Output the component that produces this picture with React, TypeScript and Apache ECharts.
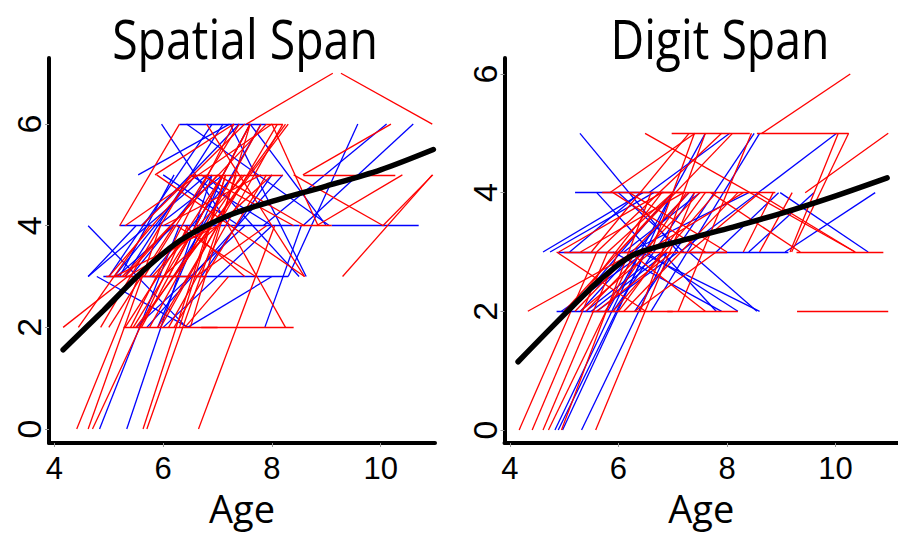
import React, { useEffect, useRef } from "react";
import * as echarts from "echarts";

// ---- data ----
const ageTicks = [4, 6, 8, 10];
const spanTicks = [0, 2, 4, 6];

// segments: [age1, score1, age2, score2]
const spatialRed: number[][] = [
  [4.41, 0, 5.55, 3], [4.62, 0, 5.95, 4], [4.7, 0, 6.45, 4], [5.63, 0, 7.15, 5],
  [5.7, 0, 7.35, 5], [6.65, 0, 8.05, 4], [4.16, 2, 5.35, 3], [4.44, 2, 5.75, 4],
  [4.85, 2, 6.5, 5], [5.27, 2, 7.0, 2], [6.7, 2, 8.4, 2], [5.3, 2, 7.1, 5],
  [5.4, 2, 7.3, 6], [5.5, 2, 6.9, 4], [5.6, 2, 7.6, 6], [5.75, 2, 7.8, 6],
  [5.9, 2, 8.1, 6], [6.1, 2, 8.2, 6], [6.4, 2, 7.2, 3], [4.95, 3, 5.55, 3],
  [5.0, 3, 6.6, 5], [5.1, 3, 7.0, 4], [5.25, 3, 7.9, 6], [5.8, 3, 7.5, 5],
  [6.0, 3, 8.0, 5], [6.2, 3, 8.25, 6], [6.6, 3, 7.9, 4], [5.2, 4, 6.3, 6],
  [5.6, 4, 7.5, 6], [6.0, 4, 7.8, 5], [5.88, 5, 8.6, 3], [7.2, 4, 8.25, 2],
  [6.5, 5, 8.2, 5], [5.85, 5, 7.3, 6], [7.53, 6, 9.12, 7], [9.27, 7, 10.95, 6],
  [8.57, 5, 10.19, 6], [8.82, 4, 10.4, 5], [9.3, 3, 10.95, 5], [8.4, 5, 10.05, 4],
  [8.5, 4, 9.1, 4], [7.9, 6, 8.2, 6], [8.58, 5, 10.27, 5], [10.04, 4, 10.96, 5],
  [6.3, 2, 7.15, 5], [6.5, 2, 7.6, 6], [6.8, 6, 8.6, 3], [8.0, 6, 8.85, 4],
  [5.35, 3, 6.9, 4], [5.55, 2, 7.45, 5], [6.25, 4, 7.7, 3], [7.0, 5, 8.6, 4],
  [5.3, 3, 7.0, 5], [5.45, 2, 6.6, 4], [5.65, 3, 7.4, 6], [6.1, 3, 7.6, 6],
  [5.95, 2, 7.0, 4], [6.2, 2, 7.9, 5], [5.0, 2, 6.2, 4], [5.3, 4, 8.0, 6],
  [6.9, 4, 8.3, 6], [6.4, 4, 7.5, 3], [6.7, 5, 8.4, 4], [5.6, 3, 6.8, 3]
];
const spatialBlue: number[][] = [
  [4.83, 0, 6.3, 4], [5.33, 0, 6.9, 5], [4.62, 4, 6.43, 2], [4.78, 3, 6.46, 2],
  [4.62, 3, 5.5, 4], [4.9, 3, 6.0, 3], [5.8, 3, 8.3, 3], [5.2, 4, 7.0, 4],
  [6.8, 4, 8.5, 4], [9.1, 4, 10.7, 4], [6.3, 6, 7.9, 6], [5.54, 5, 7.22, 6],
  [5.97, 6, 7.22, 4], [6.43, 6, 9.06, 4], [7.23, 6, 8.63, 3], [7.87, 2, 8.54, 4],
  [8.3, 3, 9.58, 6], [8.57, 4, 10.6, 6], [7.84, 4, 10.11, 6], [5.0, 3, 6.9, 6],
  [5.1, 3, 6.6, 5], [5.3, 3, 7.1, 6], [5.5, 2, 7.5, 4], [5.7, 2, 8.2, 5],
  [5.9, 2, 7.1, 5], [6.0, 2, 8.0, 4], [6.45, 2, 8.0, 3], [4.62, 3, 6.8, 5],
  [5.6, 4, 7.4, 6], [6.0, 5, 7.4, 4], [6.5, 5, 8.0, 4], [7.6, 6, 9.0, 4],
  [5.2, 3, 6.2, 5], [6.7, 3, 8.0, 5], [5.4, 3, 6.9, 5], [5.75, 3, 7.3, 5],
  [6.2, 3, 7.8, 6], [5.15, 3, 6.2, 4], [6.6, 4, 7.6, 6], [5.9, 4, 7.1, 5],
  [6.8, 5, 8.5, 3]
];
const digitRed: number[][] = [
  [4.17, 0, 5.6, 3], [4.41, 0, 5.8, 3], [4.61, 0, 6.0, 3], [4.71, 0, 6.3, 3],
  [4.95, 0, 6.6, 4], [5.58, 0, 7.4, 4], [4.33, 2, 6.3, 3], [4.86, 3, 6.5, 2],
  [5.5, 2, 7.0, 2], [6.9, 2, 8.2, 2], [9.29, 2, 10.97, 2], [9.28, 3, 10.88, 3],
  [6.98, 5, 8.42, 5], [8.55, 5, 10.24, 5], [6.8, 4, 8.89, 4], [5.0, 3, 6.2, 3],
  [6.3, 3, 8.0, 3], [8.64, 5, 10.27, 6], [9.44, 4, 10.97, 5], [6.49, 5, 10.36, 3],
  [10.24, 5, 9.19, 3], [8.55, 4, 10.36, 3], [5.84, 4, 7.41, 5], [6.0, 3, 8.1, 5],
  [5.0, 2, 7.0, 4], [5.2, 2, 7.3, 4], [5.4, 2, 7.5, 4], [5.6, 2, 7.0, 3],
  [5.9, 2, 7.8, 4], [6.1, 2, 8.2, 4], [5.3, 3, 7.2, 4], [5.6, 3, 7.9, 5],
  [6.2, 3, 7.6, 2], [7.1, 2, 8.45, 5], [6.4, 2, 7.6, 5], [7.3, 3, 8.6, 4],
  [8.3, 3, 8.85, 4], [8.6, 3, 9.2, 4], [9.16, 3, 10.05, 5], [7.7, 4, 9.35, 3],
  [5.7, 4, 7.2, 4], [6.6, 3, 7.4, 5], [5.1, 2, 6.8, 4], [5.3, 2, 6.6, 3],
  [5.75, 2, 7.25, 4], [6.0, 2, 7.6, 4], [6.3, 2, 7.8, 3], [5.5, 3, 7.3, 5],
  [5.8, 3, 7.0, 4], [6.5, 3, 8.3, 4], [5.9, 4, 7.6, 3], [6.2, 4, 8.0, 3],
  [4.9, 3, 6.8, 4]
];
const digitBlue: number[][] = [
  [4.83, 0, 6.4, 3], [4.89, 0, 6.5, 3], [4.97, 0, 7.0, 4], [5.32, 0, 6.9, 3],
  [5.2, 4, 6.83, 4], [4.89, 3, 6.3, 3], [7.2, 3, 9.13, 3], [4.86, 2, 6.0, 2],
  [5.29, 5, 7.1, 3], [4.61, 3, 6.45, 4], [4.74, 3, 6.65, 4], [6.56, 4, 8.05, 5],
  [7.13, 3, 10.02, 5], [8.98, 4, 10.6, 3], [9.07, 3, 10.73, 4], [4.95, 2, 6.5, 3],
  [5.1, 2, 7.0, 4], [5.3, 2, 7.3, 4], [5.8, 2, 7.6, 5], [6.3, 2, 8.5, 5],
  [6.6, 2, 8.6, 5], [7.3, 3, 8.55, 2], [6.5, 3, 8.2, 2], [6.8, 3, 7.8, 2],
  [6.0, 4, 7.2, 3], [5.6, 4, 6.6, 3], [7.8, 3, 8.95, 4], [8.4, 3, 9.6, 4],
  [5.5, 2, 6.9, 3], [6.1, 3, 7.5, 4], [5.4, 2, 6.8, 3], [5.6, 2, 7.1, 3],
  [5.9, 2, 7.4, 4], [6.2, 3, 8.4, 4], [5.9, 3, 7.9, 2], [6.4, 3, 8.6, 2],
  [5.1, 3, 6.4, 4]
];
// fitted curves: [age, score]
const spatialFit: number[][] = [
  [4.16, 1.56], [4.9, 2.33], [5.6, 3.08], [6.3, 3.7], [7.2, 4.2],
  [8.0, 4.48], [9.0, 4.78], [10.0, 5.1], [10.97, 5.5]
];
const digitFit: number[][] = [
  [4.15, 1.15], [5.05, 1.99], [5.66, 2.53], [6.27, 2.95], [7.19, 3.2],
  [8.11, 3.42], [9.03, 3.66], [9.95, 3.93], [10.95, 4.25]
];

const RED = "#ff0000";
const BLUE = "#0000ff";

function segSeries(segs: number[][], color: string, idx: number) {
  return {
    type: "lines",
    coordinateSystem: "cartesian2d",
    xAxisIndex: idx,
    yAxisIndex: idx,
    polyline: false,
    silent: true,
    z: 2,
    lineStyle: { color, width: 1.3, opacity: 1 },
    data: segs.map((s) => ({ coords: [[s[0], s[1]], [s[2], s[3]]] })),
  };
}

function fitSeries(pts: number[][], idx: number) {
  return {
    type: "line",
    xAxisIndex: idx,
    yAxisIndex: idx,
    data: pts,
    smooth: 0.3,
    showSymbol: false,
    symbol: "none",
    silent: true,
    z: 5,
    lineStyle: { color: "#000", width: 5.5, cap: "round" },
  };
}

function xAxis(idx: number, max: number) {
  return {
    gridIndex: idx,
    type: "value",
    min: 3.9,
    max,
    splitLine: { show: false },
    axisLine: { show: true, onZero: false, lineStyle: { color: "#000", width: 4 } },
    axisTick: { show: true, customValues: ageTicks, length: 4, lineStyle: { color: "#999", width: 1 } },
    axisLabel: {
      customValues: ageTicks,
      fontSize: 31,
      lineHeight: 30,
      fontFamily: '"Liberation Sans", Arial, sans-serif',
      color: "#000",
      margin: 10,
    },
    name: "Age",
    nameLocation: "middle",
    nameGap: 46,
    nameTextStyle: {
      fontFamily: '"Open Sans", sans-serif',
      fontSize: 38,
      lineHeight: 38,
      color: "#000",
    },
  };
}

function yAxis(idx: number, min: number, max: number) {
  return {
    gridIndex: idx,
    type: "value",
    min,
    max,
    splitLine: { show: false },
    axisLine: { show: true, onZero: false, lineStyle: { color: "#000", width: 4 } },
    axisTick: { show: true, customValues: spanTicks, length: 4, lineStyle: { color: "#999", width: 1 } },
    axisLabel: {
      customValues: spanTicks,
      rotate: 90,
      fontSize: 34,
      fontFamily: '"Liberation Sans", Arial, sans-serif',
      color: "#000",
      margin: 3,
    },
  };
}

function titleText(text: string, x: number) {
  return {
    type: "text",
    x,
    y: 38,
    scaleX: 0.86,
    style: {
      text,
      font: '54px "Open Sans", sans-serif',
      fill: "#000",
      textAlign: "center",
      align: "center",
      textVerticalAlign: "middle",
      verticalAlign: "middle",
    },
  };
}

export default function App() {
  const ref = useRef<HTMLDivElement>(null);
  useEffect(() => {
    document.body.style.margin = "0";
    if (!ref.current) return;
    const chart = echarts.init(ref.current, undefined, { renderer: "svg" });
    chart.setOption({
      animation: false,
      backgroundColor: "#fff",
      grid: [
        { left: 49, top: 58, width: 386, height: 385 },
        { left: 504.5, top: 58, width: 393.5, height: 385 },
      ],
      xAxis: [xAxis(0, 11.0), xAxis(1, 11.15)],
      yAxis: [yAxis(0, -0.275, 7.3), yAxis(1, -0.22, 6.27)],
      graphic: [titleText("Spatial Span", 245), titleText("Digit Span", 720)],
      series: [
        segSeries(spatialBlue, BLUE, 0),
        segSeries(spatialRed, RED, 0),
        fitSeries(spatialFit, 0),
        segSeries(digitBlue, BLUE, 1),
        segSeries(digitRed, RED, 1),
        fitSeries(digitFit, 1),
      ],
    });
    return () => chart.dispose();
  }, []);
  return (
    <div
      ref={ref}
      style={{ position: "fixed", left: 0, top: 0, width: 898, height: 533 }}
    />
  );
}
